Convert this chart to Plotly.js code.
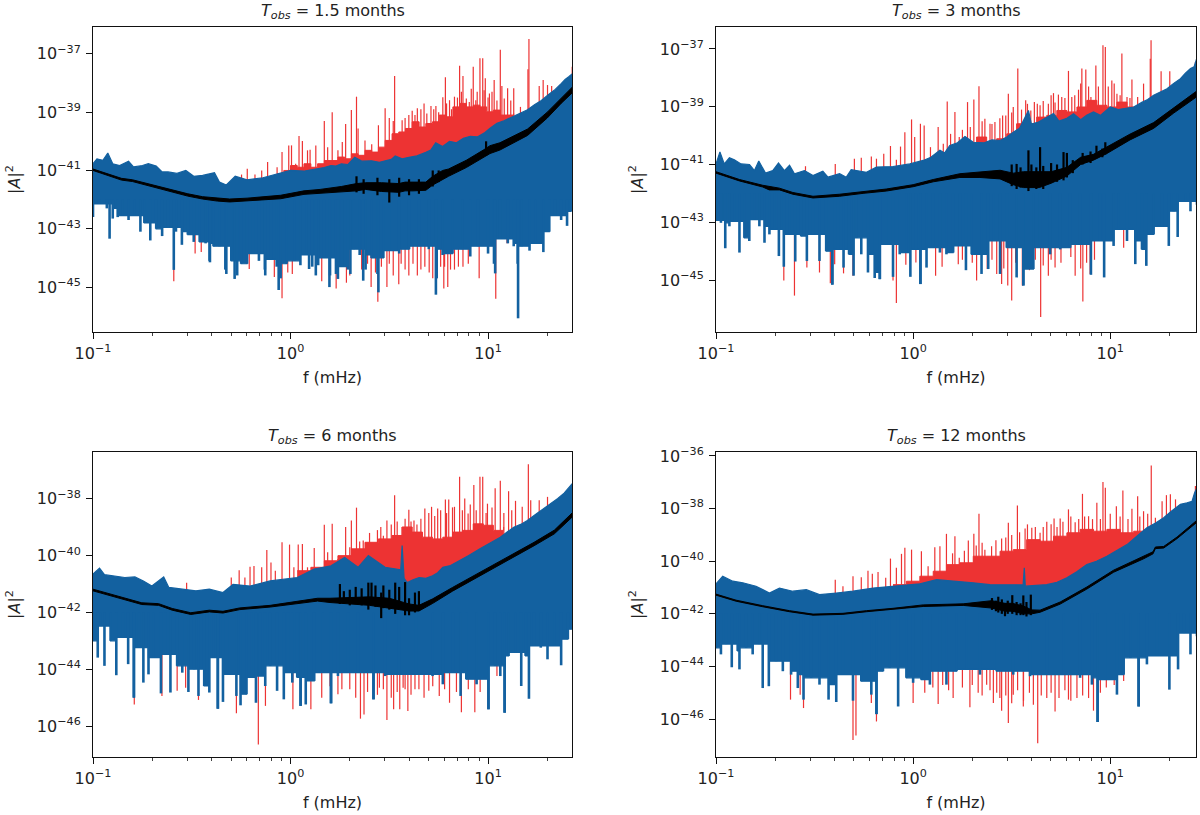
<!DOCTYPE html>
<html><head><meta charset="utf-8">
<script src="https://cdn.plot.ly/plotly-3.0.1.min.js"></script>
<style>html,body{margin:0;padding:0;background:#fff}#c{width:1200px;height:815px}</style>
</head><body><div id="c"></div>
<script>
// All frequencies are log10(f / mHz); all amplitudes are log10(|A|^2).
const titles = ['1.5 months','3 months','6 months','12 months'];
const xTickVals = [0.1,1,10];
const xTickText = ['10<sup>−1</sup>','10<sup>0</sup>','10<sup>1</sup>'];
const xMinorVals = [0.2,0.3,0.4,0.5,0.6,0.7,0.8,0.9,2,3,4,5,6,7,8,9,20];
const yTickVals1 = [1e-37,1e-39,1e-41,1e-43,1e-45];
const yTickText1 = ['10<sup>−37</sup>','10<sup>−39</sup>','10<sup>−41</sup>','10<sup>−43</sup>','10<sup>−45</sup>'];
const yTickVals2 = yTickVals1, yTickText2 = yTickText1;
const yTickVals3 = [1e-38,1e-40,1e-42,1e-44,1e-46];
const yTickText3 = ['10<sup>−38</sup>','10<sup>−40</sup>','10<sup>−42</sup>','10<sup>−44</sup>','10<sup>−46</sup>'];
const yTickVals4 = [1e-36,1e-38,1e-40,1e-42,1e-44,1e-46];
const yTickText4 = ['10<sup>−36</sup>','10<sup>−38</sup>','10<sup>−40</sup>','10<sup>−42</sup>','10<sup>−44</sup>','10<sup>−46</sup>'];

// ---------- Panel 1: 1.5 months
const p1TopF=[-1,-.98,-.95,-.925,-.9,-.865,-.82,-.795,-.75,-.72,-.68,-.65,-.62,-.575,-.53,-.49,-.445,-.385,-.36,-.325,-.28,-.22,-.14,-.07,0,.07,.11,.14,.17,.205,.23,.257,.29,.325,.36,.41,.45,.48,.51,.53,.565,.6,.64,.685,.71,.735,.77,.805,.84,.875,.91,.945,.98,1.01,1.045,1.08,1.105,1.13,1.165,1.2,1.235,1.27,1.305,1.34,1.37,1.39,1.41,1.44];
const p1TopV=[-40.77,-40.6,-40.65,-40.4,-40.77,-40.83,-40.68,-40.88,-40.83,-40.77,-40.85,-41.05,-41.05,-41.1,-41,-41.2,-41.17,-41.08,-41.4,-41.5,-41.2,-41.32,-41.25,-41.13,-41,-41.02,-40.98,-40.95,-40.9,-40.83,-40.85,-40.77,-40.8,-40.55,-40.68,-40.67,-40.72,-40.67,-40.62,-40.5,-40.6,-40.55,-40.5,-40.38,-40.3,-40.05,-40.18,-40,-40.05,-39.9,-39.83,-39.85,-39.72,-39.55,-39.38,-39.3,-39.22,-39.12,-39.02,-38.92,-38.75,-38.6,-38.4,-38.22,-38.02,-37.88,-37.78,-37.6];
const p1BotF=[-1,-.97,-.93,-.9,-.875,-.85,-.82,-.79,-.76,-.74,-.71,-.68,-.65,-.62,-.58,-.55,-.52,-.49,-.46,-.43,-.41,-.39,-.36,-.33,-.3,-.27,-.25,-.22,-.19,-.16,-.13,-.1,-.07,-.05,-.02,.02,.05,.08,.11,.14,.17,.2,.23,.26,.29,.32,.35,.38,.41,.44,.47,.5,.55,.6,.65,.7,.74,.77,.82,.87,.91,.95,1,1.03,1.06,1.1,1.13,1.15,1.17,1.21,1.24,1.28,1.31,1.34,1.37,1.4,1.42,1.44];
const p1BotV=[-42.6,-42.15,-42.3,-42.65,-42.6,-42.55,-42.7,-42.55,-43.1,-42.8,-43.4,-43,-43.25,-42.95,-43.1,-43.55,-43.2,-43.45,-43.45,-43.5,-44.1,-43.6,-43.6,-44.4,-44.1,-44.6,-44.2,-44.2,-43.85,-44.1,-44.4,-44.05,-44.3,-44.7,-44.2,-44.1,-44.25,-43.9,-44.3,-44.25,-44,-44.6,-44.55,-44.3,-44.4,-43.7,-43.9,-44.4,-44,-44.55,-44,-43.75,-43.85,-43.7,-43.6,-43.7,-44.7,-43.9,-43.85,-43.7,-43.95,-43.6,-43.85,-44.2,-43.35,-43.5,-43.6,-44.2,-43.6,-43.75,-43.5,-43.8,-43.1,-42.55,-42.7,-42.9,-42.4,-42.3];
const p1DipF=[-.916,-.591,-.408,-.325,-.283,-.128,-.06,.094,.128,.197,.24,.303,.368,.445,.736,1.036,1.152];
const p1DipV=[-43.34,-44.41,-44.15,-44.55,-44.72,-44.6,-45.1,-44.38,-44.6,-45,-44.72,-44.55,-44.78,-45.18,-45.26,-44.53,-46.07];
const p1PeakF=[-.248,-.219,-.18,-.146,-.116,-.068,-.043,-.009,.005,.026,.043,.06,.086,.099,.128,.171,.188,.211,.24,.262,.279,.308,.334,.342,.377,.411,.445,.479,.488,.527,.548,.565,.599,.616,.642,.676,.711,.736,.771,.784,.805,.83,.856,.873,.89,.925,.938,.959,.973,.986,1.007,1.031,1.062,1.082,1.099,1.13,1.164,1.202,1.207,1.259,1.279,1.301,1.322,1.426,.5,.52,.58,.63,.66,.69,.725,.75,.79,.815,.845,.865,.905,.915,.945,.98,1,1.02,1.045,1.07,1.115];
const p1PeakV=[-41.14,-40.94,-41.14,-41,-40.71,-40.89,-40.37,-40.14,-40.14,-40.77,-39.82,-39.99,-40.31,-40.29,-40.14,-39.3,-40.2,-39,-40.31,-40.02,-39.41,-38.93,-38.47,-39.56,-39.97,-40.1,-39.45,-38.87,-39.97,-37.76,-39.74,-39.28,-39.1,-38.95,-38.87,-38.7,-38.79,-38.79,-38.49,-37.8,-38.59,-38.47,-37.41,-37.76,-38.53,-37.44,-38.59,-37.15,-37.15,-37.84,-38.36,-37.9,-36.86,-38.53,-38.18,-38.18,-38.82,-37.53,-36.49,-38.1,-37.9,-38.07,-38.1,-37.44,-39.2,-39.3,-39.2,-39.1,-38.9,-39.05,-38.9,-39,-38.7,-38.9,-38.5,-38.3,-38.65,-38.2,-38.3,-38.25,-38.5,-38.3,-38.6,-38.1,-38.6];
const p1BodyF=[-.068,-.034,0,.034,.068,.103,.137,.171,.205,.24,.274,.308,.342,.377,.411,.445,.479,.514,.548,.582,.616,.651,.685,.719,.753,.788,.822,.856,.89,.925,.959,.993,1.027,1.062,1.096,1.13];
const p1BodyV=[-41.11,-41,-40.83,-40.89,-40.77,-40.89,-40.77,-40.66,-40.66,-40.54,-40.6,-40.43,-40.48,-40.31,-40.37,-40.2,-39.97,-39.74,-39.68,-39.56,-39.33,-39.51,-39.39,-39.33,-39.1,-39.16,-38.82,-38.7,-38.82,-38.76,-38.82,-38.99,-38.93,-39.1,-39.1,-39.05];
const p1RedDipF=[-.591,-.483,-.452,-.209,-.082,-.043,-.014,.009,.158,.231,.283,.408,.442,.488,.5,.548,.56,.599,.62,.642,.68,.702,.74,.776,.78,.796,.83,.873,.955,1.039,1.096,.3,.36,.39,.43,.46,.52,.58,.66,.72,.76,.81,.85,.9];
const p1RedDipV=[-44.8,-43.85,-43.8,-44.38,-44.65,-45.38,-44.5,-44.55,-44.8,-45.05,-44.85,-45,-45.5,-45,-44.2,-44.9,-44.2,-44.6,-44.2,-44.6,-44.3,-44.5,-44.5,-45.05,-44.3,-45,-44.4,-44.3,-44.7,-45.4,-43.5,-44.6,-44.4,-44.2,-44.5,-44.3,-44.6,-44.4,-44.4,-44.7,-44.3,-44.4,-44.3,-44.2];
const p1BlackF=[-1,-.93,-.856,-.8,-.736,-.67,-.6,-.52,-.445,-.37,-.308,-.22,-.137,-.05,.068,.15,.257,.334,.38,.46,.548,.58,.62,.685,.72,.77,.8,.89,.976,.99,1.01,1.06,1.2,1.3,1.37,1.44];
const p1BlackHi=[-40.95,-41.1,-41.27,-41.32,-41.43,-41.55,-41.68,-41.8,-41.9,-41.95,-41.98,-41.95,-41.9,-41.85,-41.7,-41.65,-41.55,-41.45,-41.42,-41.42,-41.45,-41.4,-41.4,-41.4,-41.2,-41,-40.95,-40.65,-40.3,-40.25,-40.15,-40.05,-39.58,-39,-38.52,-38.05];
const p1BlackLo=[-41,-41.15,-41.33,-41.38,-41.5,-41.62,-41.75,-41.88,-41.98,-42.05,-42.08,-42.05,-42.02,-41.97,-41.82,-41.78,-41.72,-41.7,-41.65,-41.72,-41.75,-41.7,-41.7,-41.68,-41.5,-41.3,-41.2,-40.9,-40.55,-40.5,-40.42,-40.3,-39.8,-39.2,-38.7,-38.25];
const p1NoiseF=[.334,.37,.44,.5,.55,.6,.65,.72,.75,.99];
const p1NoiseHi=[-41.2,-41.3,-41.25,-41.3,-41.25,-41.3,-41.3,-41,-41,-40];
const p1NoiseLo=[-41.75,-41.8,-41.85,-42.1,-41.9,-41.85,-41.8,-41.55,-41.4,-40.5];

// ---------- Panel 2: 3 months
const p2TopF=[-1,-.98,-.958,-.932,-.907,-.873,-.83,-.805,-.783,-.749,-.712,-.683,-.653,-.627,-.602,-.551,-.508,-.458,-.432,-.373,-.339,-.314,-.237,-.186,-.102,-.017,.051,.09,.136,.16,.186,.225,.263,.305,.36,.4,.441,.475,.508,.54,.585,.6,.636,.67,.712,.74,.78,.814,.85,.88,.915,.95,1,1.04,1.08,1.119,1.16,1.19,1.22,1.255,1.288,1.32,1.356,1.38,1.407,1.425,1.44];
const p2TopV=[-40.98,-40.57,-40.98,-40.77,-40.84,-40.98,-41,-41.21,-40.88,-41.3,-41.21,-40.95,-41.21,-41.03,-41.32,-41.21,-41.38,-41.23,-41.44,-41.32,-41.44,-41.18,-41.27,-41.09,-41.07,-40.98,-40.86,-40.75,-40.51,-40.6,-40.34,-40.25,-40.03,-40.23,-40.25,-40.15,-40.17,-40.05,-39.88,-39.75,-39.13,-39.6,-39.53,-39.4,-39.24,-39.5,-39.4,-39.24,-39.45,-39.3,-39.18,-39.3,-39.01,-39.1,-39.05,-39.01,-38.85,-38.75,-38.6,-38.5,-38.38,-38.2,-38.03,-37.85,-37.68,-37.62,-37.3];
const p2BotF=[-1,-.975,-.953,-.932,-.907,-.881,-.856,-.831,-.805,-.78,-.754,-.729,-.703,-.681,-.656,-.627,-.598,-.568,-.539,-.508,-.475,-.441,-.41,-.381,-.353,-.325,-.302,-.288,-.263,-.229,-.195,-.169,-.136,-.102,-.068,-.034,-.014,.014,.037,.068,.102,.136,.169,.203,.237,.268,.297,.347,.381,.407,.441,.475,.525,.559,.61,.644,.695,.746,.797,.847,.902,.949,.969,1.017,1.042,1.085,1.127,1.161,1.183,1.22,1.263,1.297,1.322,1.342,1.381,1.407,1.44];
const p2BotV=[-42.94,-43.02,-43.9,-43.14,-42.97,-44.05,-43.54,-43.65,-42.91,-43.14,-43.71,-43.42,-43.25,-44.17,-44.54,-43.42,-44.36,-43.48,-44.34,-43.42,-44.34,-44,-45.16,-43.94,-44.57,-44.11,-44.85,-43.54,-44.11,-44.74,-44.93,-44.97,-43.77,-44.89,-44.11,-44.05,-44.89,-43.94,-45.14,-44.57,-43.88,-44.05,-44.11,-44.05,-43.82,-44.66,-44.11,-44.79,-44.62,-43.65,-44.79,-43.88,-44.91,-45.19,-44.62,-43.88,-44.11,-43.94,-43.88,-43.77,-44.82,-43.65,-44.91,-43.82,-43.25,-43.65,-44.45,-43.94,-44.51,-43.42,-43.14,-43.82,-42.62,-43.51,-42.28,-42.62,-42.39];
const p2DipF=[-.41,-.169,.037,.559];
const p2DipV=[-45.16,-44.97,-45.14,-45.19];
const p2PeakF=[-.546,-.395,-.298,-.263,-.212,-.186,-.149,-.115,-.085,-.064,-.042,-.008,.008,.037,.056,.088,.127,.153,.173,.19,.212,.234,.276,.308,.334,.364,.39,.415,.454,.483,.508,.531,.571,.597,.615,.644,.686,.712,.737,.754,.788,.805,.839,.856,.876,.902,.927,.963,.975,1.008,1.034,1.059,1.085,1.11,1.139,1.169,1.203,1.207,1.258,1.302,1.432,.25,.29,.35,.4,.44,.47,.5,.55,.58,.63,.66,.7,.72,.77,.82,.85,.89,.94,.99,1.02,1.05,1.1];
const p2PeakV=[-41.06,-40.98,-40.8,-40.77,-40.72,-40.8,-40.63,-40.36,-40.84,-40.38,-39.88,-39.44,-40.05,-39.59,-39.65,-40.4,-39.7,-40.28,-38.82,-39.94,-39.18,-40.05,-38.84,-38.75,-38.29,-39.42,-39.59,-39.53,-39.3,-38.55,-39.01,-37.68,-38.78,-39.13,-38.84,-38.95,-38.9,-38.53,-38.58,-38.66,-37.76,-38.66,-38.41,-37.68,-37.71,-38.66,-37.57,-36.87,-36.93,-38.09,-38.55,-37.16,-38.66,-38.06,-38.66,-38.2,-37.34,-36.7,-37.77,-37.77,-37.45,-39.8,-39.7,-39.5,-39.6,-39.4,-39.3,-39.2,-39.1,-38.9,-38.9,-38.8,-38.6,-38.85,-38.7,-38.6,-38.2,-38.3,-38.3,-38.3,-38.2,-38.6,-38.7];
const p2BodyF=[.119,.169,.22,.271,.322,.373,.424,.475,.525,.576,.627,.678,.729,.78,.831,.881,.932,.983,1.034,1.085,1.136];
const p2BodyV=[-40.75,-40.51,-40.45,-40.28,-40.05,-40.23,-40.11,-39.94,-39.59,-39.59,-39.36,-39.3,-39.13,-39.18,-39.01,-38.78,-38.95,-39.01,-38.84,-39.01,-38.95];
const p2RedDipF=[-.656,-.602,-.539,-.475,-.42,-.398,-.353,-.305,-.102,-.085,-.037,.014,.114,.147,.229,.322,.376,.424,.449,.48,.5,.554,.59,.647,.686,.72,.822,.861,.898,1.068,.25,.3,.4,.46,.52,.57,.62,.66,.7,.75,.8,.85,.88,.92];
const p2RedDipV=[-45.02,-45.54,-44.57,-44.74,-45.11,-44.45,-44.77,-44.85,-45.02,-45.8,-44.47,-44.39,-44.85,-44.54,-44.45,-45.02,-44.62,-44.79,-45.14,-45.19,-45.71,-45.19,-44.66,-46.28,-44.85,-44.57,-44.85,-45.74,-44.79,-43.88,-44.3,-44.4,-44.3,-44.6,-44.4,-44.4,-44.3,-44.5,-44.3,-44.4,-44.2,-44.6,-44.4,-44.3];
const p2BlackF=[-1,-.881,-.763,-.73,-.678,-.61,-.508,-.373,-.254,-.136,0,.102,.237,.339,.441,.508,.56,.64,.7,.78,.85,.915,.983,1.1,1.22,1.322,1.44];
const p2BlackHi=[-41.25,-41.52,-41.72,-41.75,-41.82,-41.97,-42.1,-42.03,-41.94,-41.85,-41.7,-41.52,-41.32,-41.25,-41.2,-41.3,-41.25,-41.25,-41.25,-41.1,-40.75,-40.65,-40.4,-39.95,-39.55,-39.03,-38.45];
const p2BlackLo=[-41.3,-41.57,-41.78,-41.88,-41.88,-42.03,-42.16,-42.1,-42,-41.92,-41.77,-41.6,-41.45,-41.45,-41.5,-41.7,-41.8,-41.8,-41.65,-41.4,-41,-40.85,-40.62,-40.15,-39.75,-39.22,-38.65];
const p2NoiseF=[.5,.525,.545,.585,.6,.625,.644,.66,.7,.73,.763,.78,.81,.86,.9,.93,.96,.975];
const p2NoiseHi=[-41,-40.98,-41.1,-40.51,-41,-41.1,-40.4,-41.05,-40.95,-41,-40.57,-40.6,-40.85,-40.6,-40.55,-40.35,-40.45,-40.23];
const p2NoiseLo=[-41.75,-41.85,-41.8,-41.92,-41.75,-41.85,-41.75,-41.85,-41.6,-41.6,-41.55,-41.45,-41.3,-41,-40.95,-40.75,-40.75,-40.65];

// ---------- Panel 3: 6 months
const p3TopF=[-1,-.967,-.942,-.89,-.839,-.788,-.745,-.702,-.642,-.616,-.548,-.479,-.411,-.342,-.291,-.205,-.103,-.034,.034,.12,.205,.274,.342,.394,.479,.558,.565,.575,.591,.62,.651,.685,.719,.745,.771,.81,.856,.9,.959,1,1.03,1.062,1.1,1.13,1.165,1.199,1.24,1.284,1.32,1.353,1.385,1.421,1.44];
const p3TopV=[-40.65,-40.44,-40.67,-40.71,-40.77,-40.75,-40.89,-41.07,-40.75,-41.12,-41.18,-41.24,-41.18,-41.3,-41.01,-41.07,-40.89,-40.83,-40.77,-40.47,-40.36,-40.06,-40.41,-40,-40.41,-40.5,-39.64,-40.8,-40.95,-40.85,-40.77,-40.8,-40.71,-40.6,-40.41,-40.35,-40.18,-40,-39.76,-39.6,-39.5,-39.35,-39.15,-39,-38.9,-38.76,-38.55,-38.34,-38.15,-37.99,-37.8,-37.51,-37.35];
const p3BotF=[-1,-.976,-.962,-.942,-.911,-.882,-.848,-.822,-.793,-.767,-.745,-.719,-.693,-.656,-.634,-.608,-.574,-.548,-.517,-.488,-.466,-.437,-.411,-.39,-.368,-.342,-.308,-.274,-.253,-.223,-.197,-.175,-.154,-.128,-.103,-.068,-.034,-.014,.009,.034,.051,.077,.12,.163,.205,.24,.291,.342,.42,.479,.548,.634,.719,.771,.822,.861,.89,.942,1.002,1.036,1.062,1.084,1.104,1.139,1.168,1.19,1.207,1.233,1.267,1.301,1.336,1.37,1.404,1.44];
const p3BotV=[-43,-43.59,-42.48,-43.88,-43,-44.21,-42.88,-43.82,-45,-43.24,-44.47,-44.18,-43.59,-44.85,-43.48,-44.82,-43.88,-44.12,-44.8,-44,-44.94,-44.59,-44.82,-43.59,-45.39,-45.15,-44.18,-44.94,-45.27,-44.88,-44.29,-45.18,-44.24,-44.59,-43.88,-44.76,-45.06,-44.12,-44.47,-44.29,-45.29,-45.24,-44.41,-44.12,-45.2,-44.24,-44.12,-44.12,-45.06,-44.24,-44.18,-44.18,-44.24,-44.53,-44.12,-44.94,-44.35,-44.53,-45.41,-43.88,-44.24,-45.53,-43.53,-43.41,-44.59,-43.53,-45.04,-43.18,-43.24,-43.65,-43.18,-43.86,-42.94,-42.59];
const p3DipF=[-.793,-.368,.051,.205,.42,1.002,1.084];
const p3DipV=[-45,-45.39,-45.29,-45.2,-45.06,-45.41,-45.53];
const p3PeakF=[-.526,-.3,-.26,-.231,-.205,-.185,-.146,-.12,-.099,-.077,-.043,-.005,.017,.039,.06,.086,.12,.171,.188,.211,.24,.279,.308,.334,.368,.411,.457,.488,.527,.565,.599,.625,.68,.714,.745,.784,.801,.83,.856,.882,.899,.928,.959,.973,.997,1.036,1.062,1.104,1.139,1.173,1.204,1.216,1.259,1.301,.3,.35,.4,.44,.47,.51,.54,.58,.61,.64,.66,.7,.73,.76,.79,.82,.87,.91,.94,.99,1.02,1.08,1.12];
const p3PeakV=[-40.95,-40.77,-40.51,-40.77,-40.39,-40.36,-40.41,-39.8,-40.24,-40.53,-39.53,-39.61,-40.41,-39.61,-39.59,-40.41,-39.73,-38.91,-39.88,-38.88,-40.12,-38.99,-38.76,-38.31,-39.47,-39.59,-38.99,-38.76,-37.87,-38.99,-38.38,-38.76,-38.34,-38.28,-38.34,-38.02,-38.02,-38.28,-37.22,-37.99,-38.52,-37.51,-37.22,-37.22,-38.17,-37.63,-37.36,-37.73,-38.07,-38.28,-36.78,-38.05,-38.05,-37.93,-39.7,-39.5,-39.2,-39.1,-39.3,-38.9,-38.8,-38.7,-38.8,-38.9,-38.7,-38.5,-38.6,-38.4,-38.5,-38.3,-38.4,-38.2,-38.4,-38.5,-38.3,-38.5,-38.4];
const p3BodyF=[.034,.103,.171,.24,.308,.377,.445,.514,.565,.616,.668,.719,.771,.822,.873,.925,.976,1.027,1.079];
const p3BodyV=[-40.53,-40.41,-40.18,-40,-39.76,-39.53,-39.41,-39.29,-38.99,-39.17,-39.35,-39.41,-39.35,-39.17,-39.11,-38.88,-38.93,-39.11,-38.99];
const p3RedDipF=[-.791,-.651,-.574,-.531,-.466,-.274,-.163,-.127,.012,.103,.158,.24,.3,.354,.372,.42,.45,.488,.522,.553,.57,.594,.63,.676,.7,.753,.805,.865,.933,1.045,.2,.26,.33,.39,.44,.47,.51,.54,.58,.61,.65,.72,.78,.84,.9,.96];
const p3RedDipV=[-45.24,-44.94,-44.76,-44.65,-45.08,-45.55,-46.65,-45.29,-45.41,-45.41,-45,-44.88,-44.7,-45.74,-45.59,-44.82,-44.65,-45.79,-45.41,-45.41,-44.65,-45.47,-44.7,-45,-44.76,-44.94,-45.18,-45.51,-45.51,-44.24,-44.6,-44.7,-45,-44.8,-44.9,-44.7,-45,-44.8,-44.7,-44.9,-44.7,-44.6,-44.7,-44.8,-44.7,-44.8];
const p3BlackF=[-1,-.89,-.753,-.668,-.599,-.505,-.411,-.342,-.257,-.103,.017,.137,.2,.4,.5,.6,.65,.72,.82,.976,1.096,1.233,1.336,1.44];
const p3BlackHi=[-41.18,-41.39,-41.66,-41.69,-41.86,-42.01,-41.92,-41.96,-41.84,-41.75,-41.62,-41.5,-41.5,-41.45,-41.5,-41.7,-41.75,-41.52,-41.12,-40.53,-40.07,-39.53,-39.1,-38.4];
const p3BlackLo=[-41.24,-41.45,-41.72,-41.75,-41.92,-42.07,-41.98,-42.02,-41.9,-41.81,-41.7,-41.6,-41.65,-41.75,-41.85,-41.95,-41.95,-41.68,-41.25,-40.66,-40.18,-39.65,-39.23,-38.55];
const p3NoiseF=[.25,.27,.3,.33,.36,.394,.41,.43,.459,.47,.5,.53,.55,.58,.6,.63,.65];
const p3NoiseHi=[-41,-41.25,-41.2,-41.1,-41.15,-40.95,-40.95,-41.05,-41.3,-41.05,-41.2,-40.95,-41.1,-40.93,-41.5,-41.3,-41.25];
const p3NoiseLo=[-41.7,-41.7,-41.75,-41.7,-41.75,-41.9,-41.75,-41.8,-42.2,-41.85,-41.9,-42.05,-41.85,-42.1,-42.1,-42,-41.95];

// ---------- Panel 4: 12 months
const p4TopF=[-1,-.966,-.915,-.864,-.797,-.729,-.678,-.61,-.542,-.475,-.39,-.305,-.203,-.102,.034,.119,.22,.305,.39,.492,.558,.564,.569,.678,.73,.78,.83,.881,.93,.983,1.03,1.085,1.135,1.186,1.23,1.271,1.31,1.356,1.39,1.415,1.428,1.44];
const p4TopV=[-40.86,-40.57,-40.76,-40.82,-40.95,-41.21,-41.02,-41.14,-41.08,-41.27,-41.21,-41.14,-41.02,-40.95,-40.86,-40.7,-40.76,-40.82,-40.89,-40.89,-40.9,-40.25,-40.95,-40.89,-40.8,-40.63,-40.4,-40.13,-40,-39.81,-39.6,-39.37,-39.05,-38.73,-38.55,-38.35,-38.1,-37.84,-37.78,-37.72,-37.4,-37.2];
const p4BotF=[-1,-.975,-.949,-.92,-.89,-.881,-.847,-.814,-.78,-.763,-.732,-.695,-.661,-.619,-.585,-.556,-.517,-.475,-.429,-.39,-.356,-.305,-.263,-.212,-.186,-.153,-.119,-.076,-.034,0,.042,.085,.136,.169,.22,.271,.339,.424,.508,.593,.678,.763,.847,.907,.936,.975,1.034,1.068,1.102,1.144,1.186,1.237,1.3,1.344,1.373,1.407,1.44];
const p4BotV=[-43.29,-43.54,-43.15,-44.03,-43.41,-44.11,-43.29,-43.54,-43.15,-44.82,-44.75,-43.8,-44.18,-44.31,-44.82,-45.26,-44.43,-44.69,-45.26,-45.35,-44.31,-45.3,-44.56,-45.07,-45.81,-44.18,-44.05,-45.52,-44.43,-44.62,-44.5,-44.69,-44.18,-44.69,-44.18,-44.11,-44.31,-44.18,-44.31,-44.37,-44.31,-44.31,-44.43,-44.69,-46.11,-44.5,-45.07,-44.31,-43.67,-45.52,-43.92,-43.6,-44.88,-44.11,-42.73,-43.54,-42.85];
const p4DipF=[-.186,.936,1.144];
const p4DipV=[-45.81,-46.11,-45.52];
const p4PeakF=[-.395,-.356,-.305,-.263,-.229,-.207,-.178,-.139,-.115,-.085,-.059,-.042,-.008,.042,.076,.11,.136,.169,.212,.234,.28,.308,.334,.364,.398,.449,.483,.529,.568,.602,.644,.678,.715,.746,.788,.822,.859,.89,.932,.963,.975,1.031,1.064,1.11,1.139,1.169,1.208,1.229,1.263,1.285,1.305,1.331,1.432,.2,.26,.32,.35,.42,.47,.5,.54,.58,.62,.66,.7,.73,.76,.8,.84,.87,.91,.95,1,1.05,1.09,1.15,1.19];
const p4PeakV=[-40.7,-40.95,-40.57,-40.61,-40.36,-40.48,-40.41,-40.63,-39.9,-40.25,-39.72,-39.49,-39.56,-39.62,-40.19,-39.47,-39.43,-38.96,-39.05,-39.87,-39.21,-38.96,-38.2,-39.56,-39.43,-39.14,-38.54,-37.88,-38.76,-38.73,-38.92,-38.5,-38.38,-38.38,-38.03,-38.52,-37.44,-38.29,-37.78,-36.99,-37.21,-37.91,-37.31,-38.01,-37.53,-38.1,-36.36,-38.35,-37.72,-37.49,-37.46,-37.65,-37.14,-39.7,-39.6,-39.4,-39.3,-39.2,-39.1,-39,-38.9,-38.6,-38.7,-38.7,-38.6,-38.7,-38.5,-38.3,-38.4,-38.3,-38.4,-38.4,-38.2,-38.3,-38.4,-38.3,-38.2];
const p4BodyF=[-.102,-.034,.034,.102,.169,.237,.305,.373,.441,.508,.576,.644,.712,.78,.847,.915,.983,1.051,1.119,1.186];
const p4BodyV=[-40.89,-40.76,-40.57,-40.38,-40.13,-40.06,-39.81,-39.81,-39.62,-39.56,-39.18,-39.24,-39.05,-38.92,-38.79,-38.86,-38.79,-38.92,-38.86,-38.92];
const p4RedDipF=[-.622,-.573,-.556,-.305,-.29,-.212,-.186,0,.059,.127,.203,.288,.373,.407,.424,.449,.483,.508,.559,.61,.632,.678,.72,.788,.831,.915,1.068,.1,.15,.18,.25,.3,.33,.35,.39,.44,.47,.5,.53,.56,.59,.65,.7,.74,.77,.8,.86,.89,.95,.98,1.02];
const p4RedDipV=[-45.26,-45.07,-45.58,-46.79,-46.62,-45.39,-46.09,-45.39,-45,-45.43,-45.2,-45.55,-44.69,-45.39,-45,-45.68,-46.15,-45.07,-45.52,-45.45,-46.92,-45.2,-45.71,-45.26,-45.2,-45.68,-44.55,-44.8,-44.7,-44.9,-44.8,-44.7,-45,-45.1,-44.9,-45.2,-45.1,-45.4,-44.9,-45.3,-45,-45.1,-45,-45.2,-44.9,-45.3,-45.1,-45.2,-45,-44.8,-44.7];
const p4BlackF=[-1,-.898,-.763,-.627,-.508,-.356,-.237,-.102,.051,.254,.398,.466,.503,.559,.602,.644,.746,.881,1.017,1.169,1.217,1.229,1.271,1.339,1.44];
const p4BlackHi=[-41.25,-41.48,-41.69,-41.88,-42.01,-41.98,-41.88,-41.79,-41.66,-41.62,-41.5,-41.6,-41.6,-41.7,-41.85,-41.86,-41.55,-40.98,-40.34,-39.83,-39.64,-39.46,-39.44,-39.08,-38.44];
const p4BlackLo=[-41.29,-41.52,-41.73,-41.92,-42.05,-42.02,-41.92,-41.83,-41.72,-41.68,-41.78,-41.9,-41.9,-42,-42,-41.94,-41.63,-41.06,-40.42,-39.91,-39.72,-39.52,-39.5,-39.14,-38.52];
const p4NoiseF=[.4,.42,.432,.45,.466,.48,.503,.525,.545,.559,.575,.597];
const p4NoiseHi=[-41.4,-41.5,-41.35,-41.45,-41.6,-41.5,-41.29,-41.55,-41.6,-41.3,-41.55,-41.27];
const p4NoiseLo=[-41.85,-41.9,-41.95,-42,-42.09,-42,-42,-42.05,-42.05,-42.05,-42.1,-42.05];

const colBlue='#1361a0', colRed='#ed3333', colBlack='#000000';
const pow=a=>a.map(v=>Math.pow(10,v));
const spikes=(F,V,baseV)=>{const x=[],y=[];F.forEach((f,i)=>{x.push(Math.pow(10,f),Math.pow(10,f),null);y.push(Math.pow(10,Array.isArray(baseV)?baseV[i]:baseV),Math.pow(10,V[i]),null);});return {x,y};};
// the blue body keeps only the shallow blocks; every deeper reading is drawn as a thin spike
const shallow=V=>V.map((v,i)=>Math.max(V[Math.max(i-1,0)],v,V[Math.min(i+1,V.length-1)]));

const panels=[
 {top:p1TopF,topV:p1TopV,bot:p1BotF,botV:p1BotV,dip:p1DipF,dipV:p1DipV,peak:p1PeakF,peakV:p1PeakV,body:p1BodyF,bodyV:p1BodyV,rd:p1RedDipF,rdV:p1RedDipV,k:p1BlackF,kHi:p1BlackHi,kLo:p1BlackLo,nF:p1NoiseF,nHi:p1NoiseHi,nLo:p1NoiseLo,tv:yTickVals1,tt:yTickText1,yr:[-46.54,-36.08],dom:[93,572,27,332],xr:[-1,1.425],base:[-41.6,-42]},
 {top:p2TopF,topV:p2TopV,bot:p2BotF,botV:p2BotV,dip:p2DipF,dipV:p2DipV,peak:p2PeakF,peakV:p2PeakV,body:p2BodyF,bodyV:p2BodyV,rd:p2RedDipF,rdV:p2RedDipV,k:p2BlackF,kHi:p2BlackHi,kLo:p2BlackLo,nF:p2NoiseF,nHi:p2NoiseHi,nLo:p2NoiseLo,tv:yTickVals2,tt:yTickText2,yr:[-46.8,-36.24],dom:[716,1196,27,332],xr:[-1,1.435],base:[-41.8,-42]},
 {top:p3TopF,topV:p3TopV,bot:p3BotF,botV:p3BotV,dip:p3DipF,dipV:p3DipV,peak:p3PeakF,peakV:p3PeakV,body:p3BodyF,bodyV:p3BodyV,rd:p3RedDipF,rdV:p3RedDipV,k:p3BlackF,kHi:p3BlackHi,kLo:p3BlackLo,nF:p3NoiseF,nHi:p3NoiseHi,nLo:p3NoiseLo,tv:yTickVals3,tt:yTickText3,yr:[-47.09,-36.35],dom:[93,572,452,757],xr:[-1,1.425],base:[-41.9,-42]},
 {top:p4TopF,topV:p4TopV,bot:p4BotF,botV:p4BotV,dip:p4DipF,dipV:p4DipV,peak:p4PeakF,peakV:p4PeakV,body:p4BodyF,bodyV:p4BodyV,rd:p4RedDipF,rdV:p4RedDipV,k:p4BlackF,kHi:p4BlackHi,kLo:p4BlackLo,nF:p4NoiseF,nHi:p4NoiseHi,nLo:p4NoiseLo,tv:yTickVals4,tt:yTickText4,yr:[-47.44,-35.85],dom:[716,1196,452,757],xr:[-1,1.435],base:[-41.9,-42]}
];

const W=1200,H=815,textCol='#222',fontFam='"DejaVu Sans",sans-serif',fs=16;
const traces=[];
const layout={width:W,height:H,margin:{l:0,r:0,t:0,b:0},paper_bgcolor:'#fff',plot_bgcolor:'#fff',showlegend:false,hovermode:false,annotations:[],font:{family:fontFam,size:fs,color:textCol}};
panels.forEach((p,i)=>{
  const n=i+1, xa='x'+n, ya='y'+n, xk='xaxis'+n, yk='yaxis'+n;
  const common={xaxis:xa,yaxis:ya,hoverinfo:'skip'};
  // red
  const rp=spikes(p.peak,p.peakV,p.base[0]);
  traces.push(Object.assign({type:'scatter',mode:'lines',x:rp.x,y:rp.y,line:{color:colRed,width:1.2}},common));
  const rb=pow(p.body);
  traces.push(Object.assign({type:'scatter',mode:'lines',x:rb,y:pow(p.bodyV),line:{color:colRed,width:1,shape:'hv'}},common));
  traces.push(Object.assign({type:'scatter',mode:'lines',x:rb,y:rb.map(()=>Math.pow(10,p.base[0])),line:{color:colRed,width:0,shape:'hv'},fill:'tonexty',fillcolor:colRed},common));
  const rd=spikes(p.rd,p.rdV,p.base[1]);
  traces.push(Object.assign({type:'scatter',mode:'lines',x:rd.x,y:rd.y,line:{color:colRed,width:1.2}},common));
  // blue
  traces.push(Object.assign({type:'scatter',mode:'lines',x:pow(p.top),y:pow(p.topV),line:{color:colBlue,width:1.2}},common));
  traces.push(Object.assign({type:'scatter',mode:'lines',x:pow(p.bot),y:pow(shallow(p.botV)),line:{color:colBlue,width:1.2,shape:'hv'},fill:'tonexty',fillcolor:colBlue},common));
  const bd=spikes(p.bot.concat(p.dip),p.botV.concat(p.dipV),p.base[1]);
  traces.push(Object.assign({type:'scatter',mode:'lines',x:bd.x,y:bd.y,line:{color:colBlue,width:2.6}},common));
  // black
  traces.push(Object.assign({type:'scatter',mode:'lines',x:pow(p.k),y:pow(p.kHi),line:{color:colBlack,width:1}},common));
  traces.push(Object.assign({type:'scatter',mode:'lines',x:pow(p.k),y:pow(p.kLo),line:{color:colBlack,width:1},fill:'tonexty',fillcolor:colBlack},common));
  const kn=spikes(p.nF,p.nHi,p.nLo);
  traces.push(Object.assign({type:'scatter',mode:'lines',x:kn.x,y:kn.y,line:{color:colBlack,width:2.2}},common));

  const [l,r,t,b]=p.dom;
  layout[xk]={type:'log',range:p.xr,domain:[l/W,r/W],anchor:ya,mirror:true,showline:true,linecolor:'#111',linewidth:1,showgrid:false,zeroline:false,
    ticks:'outside',ticklen:6,tickwidth:1,tickcolor:'#111',tickmode:'array',tickvals:xTickVals,ticktext:xTickText,tickfont:{size:fs,color:textCol,family:fontFam},ticklabelstandoff:1,
    minor:{ticks:'outside',ticklen:3,tickwidth:0.8,tickcolor:'#111',tickmode:'array',tickvals:xMinorVals,showgrid:false},
    title:{text:'f (mHz)',font:{size:fs,color:textCol,family:fontFam},standoff:9}};
  layout[yk]={type:'log',range:p.yr,domain:[1-b/H,1-t/H],anchor:xa,mirror:true,showline:true,linecolor:'#111',linewidth:1,showgrid:false,zeroline:false,
    ticks:'outside',ticklen:6,tickwidth:1,tickcolor:'#111',tickmode:'array',tickvals:p.tv,ticktext:p.tt,tickfont:{size:fs,color:textCol,family:fontFam},ticklabelstandoff:2,
    title:{text:'|<i>A</i>|<sup>2</sup>',font:{size:fs,color:textCol,family:fontFam},standoff:12}};
  layout.annotations.push({xref:'x'+n+' domain',yref:'y'+n+' domain',x:0.5,y:1,yshift:3,xanchor:'center',yanchor:'bottom',showarrow:false,
    text:'<i>T<sub>obs</sub></i> = '+titles[i],font:{size:fs,color:textCol,family:fontFam}});
});
Plotly.newPlot('c',traces,layout,{staticPlot:true,displayModeBar:false});
</script></body></html>
